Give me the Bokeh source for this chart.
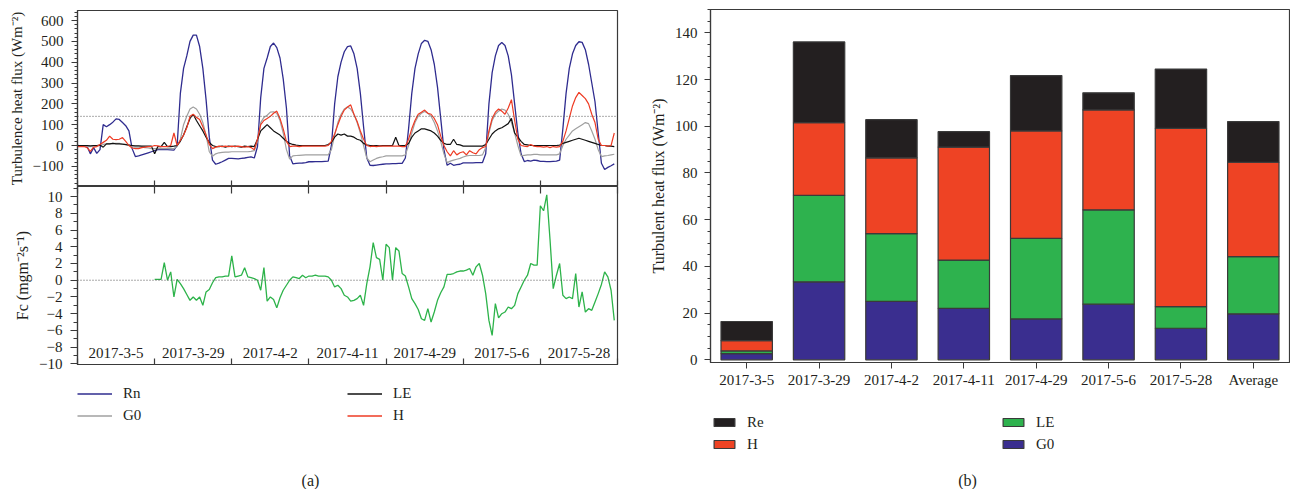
import numpy as np
from bokeh.plotting import figure
from bokeh.models import (Range1d, FixedTicker, Span, Legend, LegendItem,
                          ColumnDataSource, FactorRange, LinearAxis)
from bokeh.layouts import row, column
from bokeh.embed import file_html
from bokeh.resources import INLINE
from bokeh.core.properties import value

# ---------------- data ----------------
day_labels = ["2017-3-5", "2017-3-29", "2017-4-2", "2017-4-11", "2017-4-29", "2017-5-6", "2017-5-28"]

# hourly values, one list per day (Wm-2)
Rn = ([0, -2, -3, -5, -40, -10, -38, -20, 100, 90, 100, 112, 128, 125, 110, 95, 70, -15, -53, -50, -45, -40, -35, -30]
      + [-25, -20, -19, -20, -20, -21, -22, 0, 250, 370, 430, 500, 530, 530, 475, 370, 220, 40, -70, -90, -85, -78, -70, -62]
      + [-62, -63, -64, -62, -60, -57, -55, -60, -5, 230, 370, 420, 475, 492, 470, 420, 320, 180, -50, -88, -86, -85, -84, -82]
      + [-78, -78, -77, -77, -77, -76, -75, 0, 200, 330, 400, 450, 475, 478, 440, 370, 250, 90, -60, -95, -96, -94, -92, -90]
      + [-88, -88, -87, -87, -86, -86, -60, 80, 250, 370, 440, 490, 505, 500, 460, 390, 280, 130, -20, -95, -85, -95, -92, -90]
      + [-83, -83, -83, -83, -82, -82, -82, -40, 200, 350, 430, 480, 494, 480, 430, 340, 200, 60, -40, -77, -72, -75, -70, -72]
      + [-76, -76, -77, -77, -76, -75, -70, 80, 250, 370, 440, 480, 498, 495, 460, 390, 300, 210, 60, -85, -115, -105, -97, -88])

G0 = ([-3, -3, -3, -3, -5, -3, -3, 0, 5, 8, 8, 10, 10, 10, 8, 5, 2, -5, -8, -8, -8, -10, -12, -15]
      + [-15, -15, -15, -15, -15, -15, -15, -5, 30, 100, 140, 175, 185, 175, 150, 110, 50, -30, -52, -40, -35, -33, -32, -32]
      + [-30, -30, -30, -30, -30, -30, -28, -25, 20, 110, 135, 145, 160, 162, 155, 120, 60, -20, -65, -50, -48, -47, -46, -45]
      + [-45, -45, -45, -45, -45, -45, -45, -20, 50, 110, 150, 175, 185, 175, 150, 110, 60, 0, -60, -78, -70, -62, -57, -54]
      + [-50, -50, -50, -50, -50, -50, -45, 0, 60, 110, 140, 155, 163, 155, 140, 110, 70, 20, -40, -82, -75, -70, -66, -62]
      + [-55, -50, -48, -48, -48, -48, -45, -10, 60, 120, 150, 165, 175, 170, 150, 110, 60, 0, -50, -47, -45, -45, -43, -43]
      + [-45, -45, -45, -45, -45, -45, -40, 0, 30, 50, 70, 80, 90, 100, 110, 105, 70, 30, -20, -53, -50, -48, -45, -42])

LE = ([0, 0, 0, 0, -2, 0, 0, 2, -8, 8, 8, 10, 8, 8, 6, 4, 2, 0, -2, -2, -3, -3, -3, -3]
      + [-40, -5, -5, 15, -5, -5, -3, 0, 20, 50, 90, 130, 150, 120, 95, 70, 40, 15, 0, -5, -5, -3, -8, -3]
      + [-5, -3, -5, -8, -3, -5, -3, -5, 30, 70, 85, 100, 85, 70, 60, 50, 35, 20, 10, 5, 2, 0, 0, 0]
      + [0, 0, 0, 0, 0, 0, 5, 15, 40, 55, 50, 55, 45, 45, 40, 30, 25, 10, 3, 0, 0, 0, -2, 0]
      + [0, 0, 0, 40, 0, 0, 0, 10, 40, 60, 70, 80, 80, 75, 70, 60, 45, 25, 10, 5, 5, 30, 5, 3]
      + [-3, -3, -3, -3, -3, -3, -3, 5, 30, 55, 70, 80, 85, 95, 105, 130, 60, 40, 20, 5, 3, 0, 0, 0]
      + [0, 0, 0, 0, 0, 0, 2, 10, 15, 20, 25, 30, 35, 30, 25, 20, 15, 10, 5, 0, 0, -3, -3, -5])

H = ([-5, -5, -5, -10, -28, -8, -5, 5, 15, 25, 45, 30, 28, 30, 38, 20, 0, -12, -15, -15, -10, -8, -5, -5]
     + [0, -2, -5, -5, -5, 0, 60, 0, 25, 50, 85, 140, 150, 135, 125, 90, 50, 5, -15, -8, -3, -5, -3, -5]
     + [-3, -5, -3, -5, -8, -5, -10, -20, 30, 100, 120, 130, 140, 155, 165, 130, 80, 20, -5, -3, -3, -5, -3, -3]
     + [-3, -3, -3, -3, -3, -3, 0, 20, 55, 100, 140, 170, 185, 195, 150, 115, 70, 30, 0, -5, -3, -5, -3, -3]
     + [-3, -3, -3, -3, -3, -5, -5, 30, 80, 120, 150, 160, 170, 155, 150, 130, 100, 45, 0, -30, -50, -25, -45, -35]
     + [-30, -45, -25, -35, -40, -20, -10, -5, 70, 130, 160, 175, 165, 150, 180, 220, 120, 30, 0, -3, -5, 5, -3, -5]
     + [-5, -8, -5, -10, -5, -8, -5, 20, 70, 130, 190, 230, 255, 240, 225, 200, 150, 110, 30, 0, 0, -3, 0, 60])

nan = float("nan")
Fc = ([nan] * 24
      + [0.1, 0.1, 0.1, 2.1, 0.0, 1.0, -2.0, 0.1, -0.4, -1.0, -1.7, -2.4, -2.0, -2.4, -2.0, -3.0, -1.4, -1.1, -0.3, 0.3, 0.4, 0.4, 0.5, 0.5]
      + [2.9, 0.4, 0.5, 0.6, 1.5, 0.4, 0.3, 0.2, 0.0, -1.2, 1.5, -2.5, -2.0, -2.3, -3.3, -2.1, -1.2, -0.6, 0.0, 0.4, 0.3, 0.2, 0.6, 0.3]
      + [0.5, 0.5, 0.6, 0.5, 0.5, 0.5, 0.4, 0.0, -0.8, -0.6, -1.0, -1.8, -2.0, -2.5, -2.4, -2.2, -1.8, -3.0, -0.4, 1.6, 4.5, 2.7, 2.5, 0.0]
      + [4.3, 3.9, 0.0, 3.9, 3.5, 0.8, 0.5, -0.8, -2.2, -2.8, -3.5, -4.6, -4.8, -3.4, -5.0, -3.8, -2.4, -1.5, -0.8, 0.7, 0.7, 0.8, 1.0, 1.1]
      + [1.1, 1.2, 1.4, 0.6, 1.6, 2.0, 0.6, -1.6, -4.8, -6.6, -2.8, -4.5, -4.0, -3.8, -3.2, -3.4, -3.0, -1.6, -0.8, 0.0, 0.6, 2.0, 1.8, 1.8]
      + [8.9, 8.3, 10.2, 4.9, -1.0, 0.6, 2.0, -1.8, -2.2, -2.0, -2.2, 0.8, -3.2, -1.4, -3.8, -3.4, -3.6, -2.6, -1.6, -0.5, 1.0, 0.4, -1.2, -4.8])

flux_ref = 140   # dotted reference line, top panel
fc_ref = 0       # dotted reference line, bottom panel

# bar chart (Wm-2)
bar_cats = ["2017-3-5", "2017-3-29", "2017-4-2", "2017-4-11", "2017-4-29", "2017-5-6", "2017-5-28", "Average"]
bar_G0 = [2.6, 33.4, 25.0, 22.0, 17.5, 23.8, 13.5, 19.7]
bar_LE = [1.2, 37.0, 29.0, 20.7, 34.5, 40.4, 9.3, 24.5]
bar_H = [4.4, 31.1, 32.5, 48.4, 46.0, 42.8, 76.3, 40.4]
bar_Re = [8.2, 34.6, 16.3, 6.6, 23.7, 7.3, 25.4, 17.4]

# ---------------- style ----------------
FONT = "Liberation Serif"
TXT = "#231F20"
AX = "#3A3A3A"
C_RN, C_G0, C_LE, C_H, C_FC = "#2F2C8F", "#A0A0A0", "#111111", "#EE3B24", "#2DB34A"
B_RE, B_H, B_LE, B_G0 = "#231F20", "#EE4324", "#2EB24E", "#3A2E8F"

t = np.arange(len(Rn)) / 24.0
src = ColumnDataSource(dict(t=t, Rn=Rn, G0=G0, LE=LE, H=H, Fc=Fc))


def style_yaxis(ax, label, size="15px"):
    ax.axis_label = label
    ax.axis_label_text_font = FONT
    ax.axis_label_text_font_size = size
    ax.axis_label_text_font_style = "normal"
    ax.axis_label_text_color = TXT
    ax.axis_label_standoff = 5
    ax.major_label_text_font = FONT
    ax.major_label_text_font_size = "15px"
    ax.major_label_text_color = TXT
    ax.axis_line_color = AX
    ax.axis_line_width = 1.2
    ax.major_tick_line_color = AX
    ax.minor_tick_line_color = AX
    ax.major_tick_in = 0
    ax.minor_tick_in = 0


def plain_xaxis(ax, tick_in):
    ax.ticker = FixedTicker(ticks=list(range(len(day_labels) + 1)))
    ax.major_tick_in = tick_in
    ax.major_tick_out = 0
    ax.minor_tick_line_color = None
    ax.major_label_text_color = None
    ax.axis_line_color = AX
    ax.axis_line_width = 1.2
    ax.major_tick_line_color = AX
    ax.major_tick_line_width = 1.2


def blank_fig(fw, h, left, right):
    # same left/right borders as the panel above it; data units are pixels from the frame corner
    f = figure(frame_width=fw, frame_height=h, output_backend="svg", toolbar_location=None,
               x_axis_location=None, y_axis_location=None,
               min_border_left=left, min_border_right=right, min_border_top=0, min_border_bottom=0,
               x_range=Range1d(0, fw), y_range=Range1d(0, h))
    f.grid.visible = False
    f.outline_line_color = None
    return f


def caption_fig(fw, h, left, right, text, cx):
    f = blank_fig(fw, h, left, right)
    f.text(x=[cx], y=[h / 2 - 2], text=[text], text_font=value(FONT), text_font_size=value("16px"),
           text_color=TXT, text_align="center", text_baseline="middle")
    return f


xr = Range1d(0, len(day_labels))

# ---- top panel ----
top = figure(frame_width=540, frame_height=176, x_range=xr, y_range=Range1d(-196.8, 648),
             output_backend="svg", toolbar_location=None,
             min_border_left=77, min_border_right=23, min_border_top=10, min_border_bottom=0)
top.grid.visible = False
top.outline_line_color = AX
top.outline_line_width = 1.2
top.line("t", "Rn", source=src, color=C_RN, line_width=1.3)
top.line("t", "G0", source=src, color=C_G0, line_width=1.2)
top.line("t", "LE", source=src, color=C_LE, line_width=1.2)
top.line("t", "H", source=src, color=C_H, line_width=1.2)
top.add_layout(Span(location=flux_ref, dimension="width", line_color="#555555", line_width=1, line_dash="1 2"))
ya = top.yaxis[0]
ya.ticker = FixedTicker(ticks=list(range(-100, 601, 100)), minor_ticks=list(range(-180, 641, 20)))
ya.major_label_overrides = {-100: "\u2212100"}
ya.major_label_standoff = 8
style_yaxis(ya, "Turbulence heat flux (Wm\u207b\u00b2)")
ya.major_tick_out = 6
ya.minor_tick_out = 3
plain_xaxis(top.xaxis[0], 6)

# ---- bottom panel ----
bot = figure(frame_width=540, frame_height=178, x_range=xr, y_range=Range1d(-10.07, 11.2),
             output_backend="svg", toolbar_location=None,
             min_border_left=77, min_border_right=23, min_border_top=0, min_border_bottom=9)
bot.grid.visible = False
bot.outline_line_color = AX
bot.outline_line_width = 1.2
bot.line("t", "Fc", source=src, color=C_FC, line_width=1.3)
bot.add_layout(Span(location=fc_ref, dimension="width", line_color="#555555", line_width=1, line_dash="1 2"))
yb = bot.yaxis[0]
yb.ticker = FixedTicker(ticks=list(range(-10, 11, 2)), minor_ticks=list(range(-10, 12, 1)))
yb.major_label_overrides = {v: "\u2212" + str(-v) for v in range(-10, 0, 2)}
yb.major_label_standoff = 8
style_yaxis(yb, "Fc (mgm\u207b\u00b2s\u207b\u00b9)", size="16px")
yb.major_tick_out = 7
yb.minor_tick_out = 4
plain_xaxis(bot.xaxis[0], 6)
above = LinearAxis()
plain_xaxis(above, 7)
bot.add_layout(above, "above")

day_centers = [i + 0.5 for i in range(len(day_labels))]
bot.text(x=day_centers, y=[-8.64] * len(day_labels), text=day_labels,
         text_font=value(FONT), text_font_size=value("15px"), text_color=TXT,
         text_align="center", text_baseline="middle")

# ---- legend (a) ----
lega = blank_fig(540, 94, 77, 23)
proxies = []
for name, col in [("Rn", C_RN), ("G0", C_G0), ("LE", C_LE), ("H", C_H)]:
    r = lega.line(x=[nan], y=[nan], color=col, line_width=1.3)
    proxies.append(LegendItem(label=name, renderers=[r]))
leg_a = Legend(items=proxies, ncols=2, location=(0, 43.5),
               glyph_width=35, glyph_height=17, label_standoff=11, label_width=219, label_height=17,
               spacing=5, padding=0, margin=0, border_line_color=None, background_fill_alpha=0,
               label_text_font=FONT, label_text_font_size="15px", label_text_color=TXT)
lega.add_layout(leg_a, "center")
capa = caption_fig(540, 22, 77, 23, "(a)", 233)

left = column(top, bot, lega, capa, spacing=0)

# ---- bar chart ----
bsrc = ColumnDataSource(dict(cat=bar_cats, G0=bar_G0, LE=bar_LE, H=bar_H, Re=bar_Re))
bar = figure(frame_width=579, frame_height=353, x_range=FactorRange(factors=bar_cats, range_padding=0),
             y_range=Range1d(-1.16, 150), output_backend="svg", toolbar_location=None,
             min_border_left=70, min_border_right=1, min_border_top=9, min_border_bottom=40)
bar.grid.visible = False
bar.outline_line_color = AX
bar.outline_line_width = 1.2
rs = bar.vbar_stack(["G0", "LE", "H", "Re"], x="cat", width=0.71, source=bsrc,
                    fill_color=[B_G0, B_LE, B_H, B_RE], line_color="#3A3A3A", line_width=1.2)
yc = bar.yaxis[0]
yc.ticker = FixedTicker(ticks=list(range(0, 141, 20)), minor_ticks=list(range(0, 151, 5)))
yc.major_label_standoff = 7
style_yaxis(yc, "Turbulent heat flux (Wm\u207b\u00b2)", size="16px")
yc.major_tick_out = 6
yc.minor_tick_out = 3
xc = bar.xaxis[0]
xc.major_label_text_font = FONT
xc.major_label_text_font_size = "15px"
xc.major_label_text_color = TXT
xc.axis_line_color = AX
xc.axis_line_width = 1.2
xc.major_tick_line_color = AX
xc.major_tick_in = 0
xc.major_tick_out = 6
xc.major_label_standoff = 3

# ---- legend (b) ----
legb = blank_fig(579, 65, 70, 1)
pitems = {}
for name, col in [("Re", B_RE), ("H", B_H), ("LE", B_LE), ("G0", B_G0)]:
    r = legb.vbar(x=[nan], top=[nan], width=0.5, fill_color=col, line_color="#3A3A3A", line_width=1.2)
    pitems[name] = LegendItem(label=name, renderers=[r])
leg_b = Legend(items=[pitems["Re"], pitems["H"], pitems["LE"], pitems["G0"]],
               ncols=2, location=(1, 14.2),
               glyph_width=26, glyph_height=10, label_standoff=10, label_width=248, label_height=17,
               spacing=5, padding=0, margin=0, border_line_color=None, background_fill_alpha=0,
               label_text_font=FONT, label_text_font_size="15px", label_text_color=TXT)
legb.add_layout(leg_b, "center")
capb = caption_fig(579, 22, 70, 1, "(b)", 257)

right = column(bar, legb, capb, spacing=0)

p = row(left, right, spacing=0)
open("out.html", "w").write(file_html(p, INLINE))
